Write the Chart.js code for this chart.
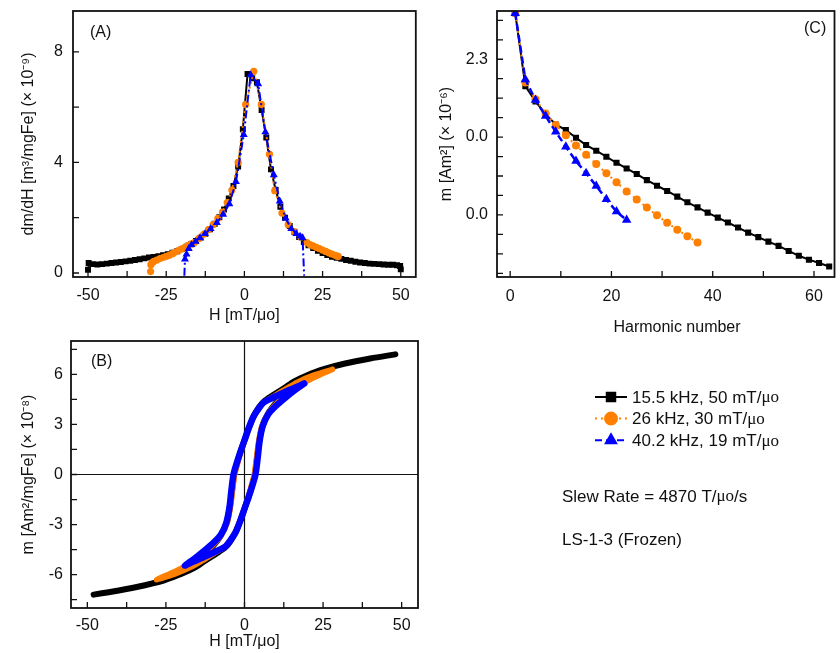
<!DOCTYPE html>
<html>
<head>
<meta charset="utf-8">
<script src="https://cdn.jsdelivr.net/npm/chart.js@4/dist/chart.umd.min.js"></script>
<style>
  body { margin: 0; background: #fff; width: 840px; height: 653px; position: relative; overflow: hidden; }
  canvas { position: absolute; }
</style>
</head>
<body>
<canvas id="chartA" width="420" height="330" style="left:0;top:0"></canvas>
<canvas id="chartB" width="420" height="323" style="left:0;top:330px"></canvas>
<canvas id="chartC" width="420" height="560" style="left:420px;top:0"></canvas>
<script>
// series
const seriesLabels = ['15.5 kHz, 50 mT/μo', '26 kHz, 30 mT/μo', '40.2 kHz, 19 mT/μo'];
const seriesColors = ['#000000', '#ff8000', '#0000ff'];

// (A) dm/dH vs H
const dmdhBlackH = [-50, -49.8, -48.5, -47, -45.5, -44, -42.5, -41, -39.5, -38, -36.5, -35, -33.5, -32, -30.5, -29, -27.5, -26, -24.5, -23, -21.5, -20, -18.5, -17, -15.5, -14, -12.5, -11, -9.5, -8, -6.5, -5, -3.5, -2, -0.5, 1, 2.5, 4, 5.5, 7, 8.5, 10, 11.5, 13, 14.5, 16, 17.5, 19, 20.5, 22, 23.5, 25, 26.5, 28, 29.5, 31, 32.5, 34, 35.5, 37, 38.5, 40, 41.5, 43, 44.5, 46, 47.5, 48.8, 49.8, 50];
const dmdhBlackY = [0.12, 0.36, 0.32, 0.31, 0.32, 0.34, 0.36, 0.38, 0.4, 0.42, 0.44, 0.47, 0.5, 0.53, 0.56, 0.58, 0.61, 0.64, 0.68, 0.73, 0.79, 0.87, 0.95, 1.04, 1.16, 1.28, 1.42, 1.58, 1.78, 2.02, 2.3, 2.7, 3.15, 3.85, 5.2, 7.2, 7.05, 6.9, 5.9, 4.9, 3.75, 3.0, 2.4, 2.0, 1.7, 1.48, 1.3, 1.12, 1.0, 0.9, 0.8, 0.72, 0.65, 0.59, 0.55, 0.51, 0.47, 0.44, 0.41, 0.38, 0.36, 0.34, 0.33, 0.32, 0.31, 0.3, 0.3, 0.28, 0.25, 0.13];
const dmdhOrangeH = [-30, -29.9, -29.5, -29, -28, -27, -26, -25, -24, -23, -22, -21, -20, -19, -18, -17, -16, -14.5, -13, -11.5, -10, -8.5, -7, -5.5, -4, -2, 0.4, 3, 5.4, 8, 9.7, 12, 14, 16, 18, 20, 21, 22, 23, 24, 25, 26, 27, 28, 29, 29.7, 30];
const dmdhOrangeY = [0.05, 0.3, 0.38, 0.42, 0.47, 0.52, 0.56, 0.6, 0.64, 0.7, 0.76, 0.82, 0.87, 0.93, 1.0, 1.05, 1.1, 1.25, 1.4, 1.57, 1.75, 1.98, 2.2, 2.55, 3.0, 4.0, 6.1, 7.3, 6.1, 4.3, 2.98, 2.17, 1.75, 1.5, 1.3, 1.1, 1.03, 0.98, 0.93, 0.88, 0.83, 0.78, 0.73, 0.68, 0.64, 0.61, 0.6];
const dmdhBlueH = [-19.2, -19.0, -18.5, -17.8, -16.9, -15.6, -14.2, -12.6, -10.8, -8.8, -6.8, -4.8, -2.7, -0.2, 2.0, 4.4, 6.7, 9.4, 11.3, 13.2, 15.0, 16.6, 17.8, 18.6, 19.1];
const dmdhBlueY = [-0.1, 0.5, 0.68, 0.88, 1.02, 1.14, 1.27, 1.42, 1.6, 1.82, 2.12, 2.5, 3.3, 5.0, 7.17, 6.84, 5.1, 3.55, 2.6, 1.98, 1.6, 1.42, 1.33, 1.27, -0.1];

// (B) hysteresis loops m vs H (descending branch then ascending branch)
const loopBlackH = [48, 40, 32, 25, 20, 16, 12.4, 9, 6, 4.5, 2.8, 1.2, 0, -1.4, -2.5, -3.3, -4, -4.7, -5.7, -7.5, -9.9, -13, -16, -20, -25, -32, -40, -48,
                    -40, -32, -25, -20, -16, -12.4, -9, -6, -4.5, -2.8, -1.2, 0, 1.4, 2.5, 3.3, 4, 4.7, 5.7, 7.5, 9.9, 13, 16, 20, 25, 32, 40, 48];
const loopBlackM = [7.2, 6.95, 6.65, 6.3, 5.95, 5.6, 5.15, 4.75, 4.35, 4.0, 3.45, 2.7, 2.05, 1.3, 0.6, 0, -1.0, -2.0, -2.9, -3.65, -4.25, -4.85, -5.3, -5.8, -6.3, -6.65, -6.95, -7.2,
                    -6.95, -6.65, -6.3, -5.95, -5.6, -5.15, -4.75, -4.35, -4.0, -3.45, -2.7, -2.05, -1.3, -0.6, 0, 1.0, 2.0, 2.9, 3.65, 4.25, 4.85, 5.3, 5.8, 6.3, 6.65, 6.95, 7.2];
const loopOrangeH = [28, 22, 17, 12.4, 9, 6, 4.5, 2.8, 1.2, 0, -1.4, -2.4, -3.1, -3.8, -4.5, -5.5, -7.5, -9.9, -13, -17, -22, -28,
                     -22, -17, -12.4, -9, -6, -4.5, -2.8, -1.2, 0, 1.4, 2.4, 3.1, 3.8, 4.5, 5.5, 7.5, 9.9, 13, 17, 22, 28];
const loopOrangeM = [6.3, 5.95, 5.55, 5.05, 4.65, 4.3, 3.95, 3.4, 2.65, 2.0, 1.2, 0.5, 0, -1.0, -2.0, -2.9, -3.65, -4.2, -4.75, -5.3, -5.8, -6.3,
                     -5.95, -5.55, -5.05, -4.65, -4.3, -3.95, -3.4, -2.65, -2.0, -1.2, -0.5, 0, 1.0, 2.0, 2.9, 3.65, 4.2, 4.75, 5.3, 5.8, 6.3];
const loopBlueH = [19, 16, 12.4, 9, 6, 4.5, 2.8, 1.2, 0, -1.4, -2.6, -3.5, -4.2, -4.8, -5.8, -7.5, -9.9, -13, -16, -19,
                   -16, -12.4, -9, -6, -4.5, -2.8, -1.2, 0, 1.4, 2.6, 3.5, 4.2, 4.8, 5.8, 7.5, 9.9, 13, 16, 19];
const loopBlueM = [5.45, 5.2, 4.9, 4.6, 4.3, 3.95, 3.45, 2.7, 2.05, 1.3, 0.6, 0, -1.0, -2.0, -2.9, -3.6, -4.1, -4.6, -5.05, -5.45,
                   -5.2, -4.9, -4.6, -4.3, -3.95, -3.45, -2.7, -2.05, -1.3, -0.6, 0, 1.0, 2.0, 2.9, 3.6, 4.1, 4.6, 5.05, 5.45];

// (C) harmonic amplitudes (axis units of panel C)
const harmBlackN = [1, 3, 5, 7, 9, 11, 13, 15, 17, 19, 21, 23, 25, 27, 29, 31, 33, 35, 37, 39, 41, 43, 45, 47, 49, 51, 53, 55, 57, 59, 61, 63];
const harmBlackM = [10.37, 6.62, 5.83, 5.18, 4.65, 4.36, 3.97, 3.59, 3.30, 2.99, 2.68, 2.39, 2.10, 1.79, 1.50, 1.23, 0.94, 0.65, 0.39, 0.12, -0.14, -0.39, -0.65, -0.91, -1.14, -1.37, -1.59, -1.85, -2.10, -2.30, -2.47, -2.65];
const harmOrangeN = [1, 3, 5, 7, 9, 11, 13, 15, 17, 19, 21, 23, 25, 27, 29, 31, 33, 35, 37];
const harmOrangeM = [10.37, 6.8, 5.95, 5.21, 4.62, 4.09, 3.57, 3.09, 2.62, 2.14, 1.68, 1.21, 0.79, 0.38, -0.02, -0.40, -0.76, -1.09, -1.42];
const harmBlueN = [1, 3, 5, 7, 9, 11, 13, 15, 17, 19, 21, 23];
const harmBlueM = [10.37, 6.96, 5.9, 5.08, 4.27, 3.50, 2.77, 2.14, 1.49, 0.80, 0.17, -0.26];

// ticks
const hTicks = [-50, -37.5, -25, -12.5, 0, 12.5, 25, 37.5, 50];
const hTickLabels = ['-50', '', '-25', '', '0', '', '25', '', '50'];
const aYTicks = [0, 2, 4, 6, 8];
const aYTickLabels = ['0', '', '4', '', '8'];
const bYTicks = [-7.5, -6, -4.5, -3, -1.5, 0, 1.5, 3, 4.5, 6, 7.5];
const bYTickLabels = ['', '-6', '', '-3', '', '0', '', '3', '', '6', ''];
const cXTicks = [0, 10, 20, 30, 40, 50, 60];
const cXTickLabels = ['0', '', '20', '', '40', '', '60'];
const cYTicks = [-3, -2, -1, 0, 1, 2, 3, 4, 5, 6, 7, 8, 9, 10];
const cYTickLabels = ['', '', '', '0.0', '', '', '', '0.0', '', '', '', '2.3', '', ''];

const SANS = '"Liberation Sans", Arial, sans-serif';
const SERIF = '"Liberation Serif", "Times New Roman", serif';
const font16 = { family: SANS, size: 16 };
Chart.defaults.font.family = SANS;

const pts = (xs, ys) => xs.map((x, i) => ({ x: x, y: ys[i] }));

function scaleCfg(min, max, ticks, labels, fit, size, title, titlePad, tickPad) {
  return {
    type: 'linear', min: min, max: max,
    afterBuildTicks: s => { s.ticks = ticks.map(v => ({ value: v })); },
    afterFit: s => {
      s[fit] = size;
      s.paddingTop = 0; s.paddingBottom = 0; s.paddingLeft = 0; s.paddingRight = 0;
    },
    ticks: { callback: (v, i) => labels[i], autoSkip: false, maxRotation: 0, padding: tickPad, color: '#111', font: font16 },
    grid: { display: false, drawTicks: false },
    border: { display: false },
    title: { display: !!title, text: title, color: '#111', font: font16, padding: titlePad }
  };
}

// frame, inward ticks, panel letter
const frameTicks = {
  id: 'frameTicks',
  afterDraw(chart, args, opts) {
    const { ctx, chartArea: a } = chart;
    const sx = chart.scales.x, sy = chart.scales.y;
    ctx.save();
    ctx.strokeStyle = '#111';
    ctx.lineWidth = 1.8;
    ctx.strokeRect(a.left, a.top, a.right - a.left, a.bottom - a.top);
    ctx.lineWidth = 1.3;
    ctx.beginPath();
    sx.ticks.forEach(t => { const p = sx.getPixelForValue(t.value); ctx.moveTo(p, a.bottom); ctx.lineTo(p, a.bottom - 6); });
    sy.ticks.forEach(t => { const p = sy.getPixelForValue(t.value); ctx.moveTo(a.left, p); ctx.lineTo(a.left + 6, p); });
    ctx.stroke();
    ctx.fillStyle = '#111';
    ctx.font = '16px ' + SANS;
    ctx.textBaseline = 'middle';
    ctx.fillText(opts.label, opts.lx, opts.ly);
    ctx.restore();
  }
};

// zero lines of panel B
const zeroLines = {
  id: 'zeroLines',
  beforeDatasetsDraw(chart) {
    const { ctx, chartArea: a } = chart;
    const x0 = chart.scales.x.getPixelForValue(0), y0 = chart.scales.y.getPixelForValue(0);
    ctx.save();
    ctx.strokeStyle = '#111';
    ctx.lineWidth = 1.2;
    ctx.beginPath();
    ctx.moveTo(x0, a.top); ctx.lineTo(x0, a.bottom);
    ctx.moveTo(a.left, y0); ctx.lineTo(a.right, y0);
    ctx.stroke();
    ctx.restore();
  }
};

function mixedText(ctx, parts, x, y) {
  parts.forEach(p => {
    ctx.font = '17px ' + (p[1] ? SERIF : SANS);
    ctx.fillText(p[0], x, y);
    x += ctx.measureText(p[0]).width;
  });
}

// legend, x title and notes of panel C
const sideLegend = {
  id: 'sideLegend',
  afterDraw(chart) {
    const ctx = chart.ctx;
    ctx.save();
    ctx.fillStyle = '#111';
    ctx.font = '16px ' + SANS;
    ctx.textAlign = 'center';
    ctx.textBaseline = 'middle';
    ctx.fillText('Harmonic number', 257, 328);
    ctx.restore();
    chart.data.datasets.forEach((ds, i) => {
      const y = 397 + 21.6 * i;
      ctx.save();
      ctx.strokeStyle = ds.borderColor;
      ctx.lineWidth = 2;
      ctx.setLineDash(ds.borderDash || []);
      ctx.beginPath(); ctx.moveTo(175, y); ctx.lineTo(207, y); ctx.stroke();
      ctx.setLineDash([]);
      ctx.fillStyle = ds.backgroundColor;
      ctx.strokeStyle = ds.borderColor;
      Chart.helpers.drawPoint(ctx, { pointStyle: ds.pointStyle, radius: 6, borderWidth: 1, rotation: 0 }, 191, y);
      ctx.fillStyle = '#111';
      ctx.textBaseline = 'middle';
      const lab = seriesLabels[i];
      mixedText(ctx, [[lab.slice(0, -2), false], [lab.slice(-2), true]], 212, y + 1);
      ctx.restore();
    });
    ctx.save();
    ctx.fillStyle = '#111';
    ctx.textBaseline = 'middle';
    mixedText(ctx, [['Slew Rate = 4870 T/', false], ['μo', true], ['/s', false]], 142, 497);
    mixedText(ctx, [['LS-1-3 (Frozen)', false]], 142, 540);
    ctx.restore();
  }
};

const common = { responsive: false, animation: false, devicePixelRatio: 1 };

// (A)
new Chart(document.getElementById('chartA'), {
  type: 'scatter',
  data: {
    datasets: [
      { data: pts(dmdhBlackH, dmdhBlackY), showLine: true, borderColor: seriesColors[0], backgroundColor: seriesColors[0], borderWidth: 2, pointStyle: 'rect', pointRadius: 4.2, pointBorderWidth: 0, order: 3 },
      { data: pts(dmdhOrangeH, dmdhOrangeY), showLine: true, borderColor: seriesColors[1], backgroundColor: seriesColors[1], borderWidth: 2, borderDash: [2, 3], pointStyle: 'circle', pointRadius: 3.6, pointBorderWidth: 0, order: 2 },
      { data: pts(dmdhBlueH, dmdhBlueY), showLine: true, borderColor: seriesColors[2], backgroundColor: seriesColors[2], borderWidth: 2, borderDash: [8, 3, 2, 3], pointStyle: 'triangle',
        pointRadius: c => (c.dataIndex === 0 || c.dataIndex === dmdhBlueH.length - 1) ? 0 : 4.6, pointBorderWidth: 0, order: 1 }
    ]
  },
  options: Object.assign({}, common, {
    layout: { padding: { top: 11, right: 2, left: 0, bottom: 0 } },
    plugins: { legend: { display: false }, tooltip: { enabled: false }, frameTicks: { label: '(A)', lx: 90, ly: 33 } },
    scales: {
      x: scaleCfg(-54.8, 54.8, hTicks, hTickLabels, 'height', 53, 'H [mT/μo]', { top: 0, bottom: 5 }, 9),
      y: scaleCfg(-0.145, 9.48, aYTicks, aYTickLabels, 'width', 73, 'dm/dH [m³/mgFe] (× 10⁻⁹)', { top: 19, bottom: 0 }, 10)
    }
  }),
  plugins: [frameTicks]
});

// (B)
new Chart(document.getElementById('chartB'), {
  type: 'scatter',
  data: {
    datasets: [
      { data: pts(loopBlackH, loopBlackM), showLine: true, borderColor: seriesColors[0], borderWidth: 6, tension: 0.3, pointRadius: 0, borderCapStyle: 'round', borderJoinStyle: 'round', order: 3 },
      { data: pts(loopOrangeH, loopOrangeM), showLine: true, borderColor: seriesColors[1], borderWidth: 5.5, tension: 0.3, pointRadius: 0, borderCapStyle: 'round', borderJoinStyle: 'round', order: 2 },
      { data: pts(loopBlueH, loopBlueM), showLine: true, borderColor: seriesColors[2], borderWidth: 6.5, tension: 0.3, pointRadius: 0, borderCapStyle: 'round', borderJoinStyle: 'round', order: 1 }
    ]
  },
  options: Object.assign({}, common, {
    layout: { padding: { top: 11, right: 2, left: 0, bottom: 0 } },
    plugins: { legend: { display: false }, tooltip: { enabled: false }, frameTicks: { label: '(B)', lx: 91, ly: 32 } },
    scales: {
      x: scaleCfg(-55.2, 55.2, hTicks, hTickLabels, 'height', 45, 'H [mT/μo]', { top: 0, bottom: 2 }, 8),
      y: scaleCfg(-8, 8, bYTicks, bYTickLabels, 'width', 71, 'm [Am²/mgFe] (× 10⁻⁸)', { top: 19, bottom: 0 }, 8)
    }
  }),
  plugins: [frameTicks, zeroLines]
});

// (C)
new Chart(document.getElementById('chartC'), {
  type: 'scatter',
  data: {
    datasets: [
      { data: pts(harmBlackN, harmBlackM), showLine: true, borderColor: seriesColors[0], backgroundColor: seriesColors[0], borderWidth: 2, pointStyle: 'rect', pointRadius: 4.3, pointBorderWidth: 0, order: 3 },
      { data: pts(harmOrangeN, harmOrangeM), showLine: true, borderColor: seriesColors[1], backgroundColor: seriesColors[1], borderWidth: 2, borderDash: [2, 4], pointStyle: 'circle', pointRadius: 4, pointBorderWidth: 0, order: 2 },
      { data: pts(harmBlueN, harmBlueM), showLine: true, borderColor: seriesColors[2], backgroundColor: seriesColors[2], borderWidth: 2.5, borderDash: [7, 4], pointStyle: 'triangle', pointRadius: 5.5, pointBorderWidth: 0, order: 1 }
    ]
  },
  options: Object.assign({}, common, {
    layout: { padding: { top: 11, right: 2, left: 0, bottom: 215 } },
    plugins: { legend: { display: false }, tooltip: { enabled: false }, frameTicks: { label: '(C)', lx: 384, ly: 29 } },
    scales: {
      x: scaleCfg(-2.6, 64.05, cXTicks, cXTickLabels, 'height', 68, '', { top: 0, bottom: 7 }, 10),
      y: scaleCfg(-3.19, 10.48, cYTicks, cYTickLabels, 'width', 77, 'm [Am²] (× 10⁻⁶)', { top: 17, bottom: 0 }, 9)
    }
  }),
  plugins: [frameTicks, sideLegend]
});
</script>
</body>
</html>
